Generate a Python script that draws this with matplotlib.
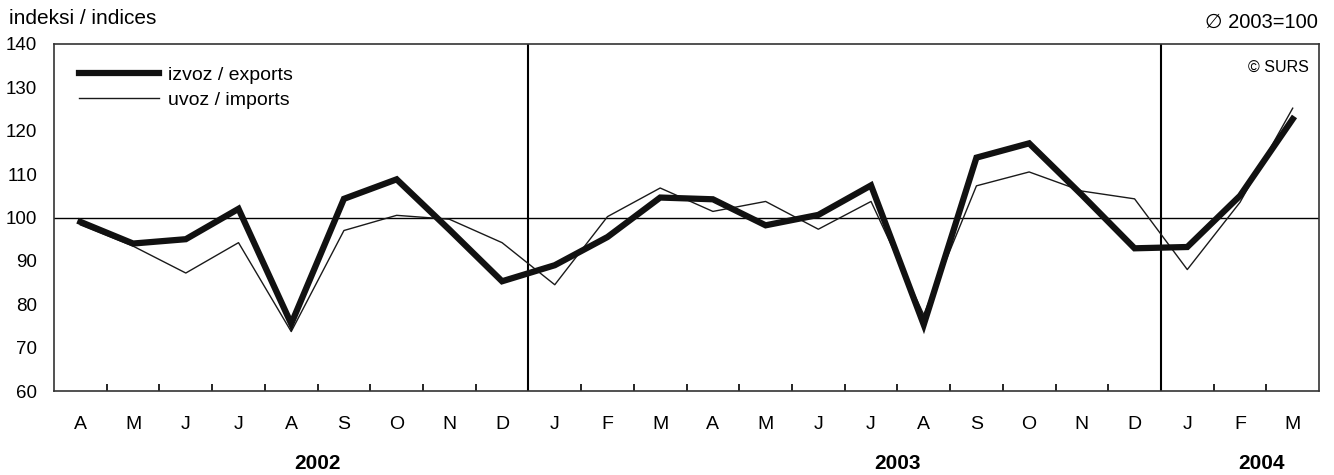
import matplotlib.pyplot as plt
import numpy as np

plt.rcParams['font.family'] = ['Liberation Sans', 'DejaVu Sans']

# months April 2002 - March 2004
months = ["A", "M", "J", "J", "A", "S", "O", "N", "D",
          "J", "F", "M", "A", "M", "J", "J", "A", "S", "O", "N", "D",
          "J", "F", "M"]
exports = [99.0, 94.0, 95.0, 102.0, 75.5, 104.3, 108.8, 97.2, 85.3,
           89.0, 95.5, 104.6, 104.2, 98.2, 100.6, 107.4, 75.3, 113.8, 117.1, 105.2, 92.9,
           93.2, 105.0, 122.7]
imports = [98.3, 93.4, 87.2, 94.2, 73.7, 97.0, 100.5, 99.6, 94.2,
           84.5, 100.2, 106.8, 101.4, 103.7, 97.3, 103.7, 77.6, 107.3, 110.5, 106.1, 104.3,
           88.0, 103.5, 125.2]
years = ["2002", "2003", "2004"]
year_pos = [4.5, 15.5, 22.4]
year_breaks = [8.5, 20.5]

x = np.arange(len(months))

fig = plt.figure(figsize=(13.34, 4.75), dpi=100)
ax = fig.add_axes([0.0405, 0.1768, 0.9483, 0.7306])

# reference lines
ax.axhline(100, color="black", lw=1.0, zorder=1)
for b in year_breaks:
    ax.axvline(b, color="black", lw=1.5, zorder=1)

ax.plot(x, imports, color="#1a1a1a", lw=1.0, label="uvoz / imports", zorder=2)
ax.plot(x, exports, color="#111111", lw=4.5, label="izvoz / exports", zorder=3,
        solid_joinstyle="miter")

ax.set_xlim(-0.5, len(months) - 0.5)
ax.set_ylim(60, 140)
ax.set_yticks(range(60, 141, 10))
ax.tick_params(axis="y", length=0, labelsize=13.5, pad=12)

# month labels centred under points, tick marks between months
ax.set_xticks(x)
ax.set_xticklabels(months, fontsize=14)
ax.tick_params(axis="x", which="major", length=0, pad=18)
ax.set_xticks(np.arange(0.5, len(months) - 0.5, 1), minor=True)
ax.tick_params(axis="x", which="minor", direction="in", length=5, width=1.2)

for s in ax.spines.values():
    s.set_color("#333333")
    s.set_linewidth(1.2)

for yr, p in zip(years, year_pos):
    ax.text(p, -0.21, yr, transform=ax.get_xaxis_transform(), ha="center",
            va="center", fontsize=15, fontweight="bold")

h, l = ax.get_legend_handles_labels()
ax.legend(h[::-1], l[::-1], loc="upper left", frameon=False, fontsize=14,
          handlelength=4.1, handletextpad=0.45, bbox_to_anchor=(0.006, 0.985),
          labelspacing=0.35)

ax.text(0.992, 0.955, "© SURS", transform=ax.transAxes, ha="right", va="top",
        fontsize=11.5)
fig.text(0.007, 0.962, "indeksi / indices", ha="left", va="center", fontsize=15)
fig.text(0.988, 0.952, "∅ 2003=100", ha="right", va="center", fontsize=14.5)

fig.savefig("out.png", dpi=100)
